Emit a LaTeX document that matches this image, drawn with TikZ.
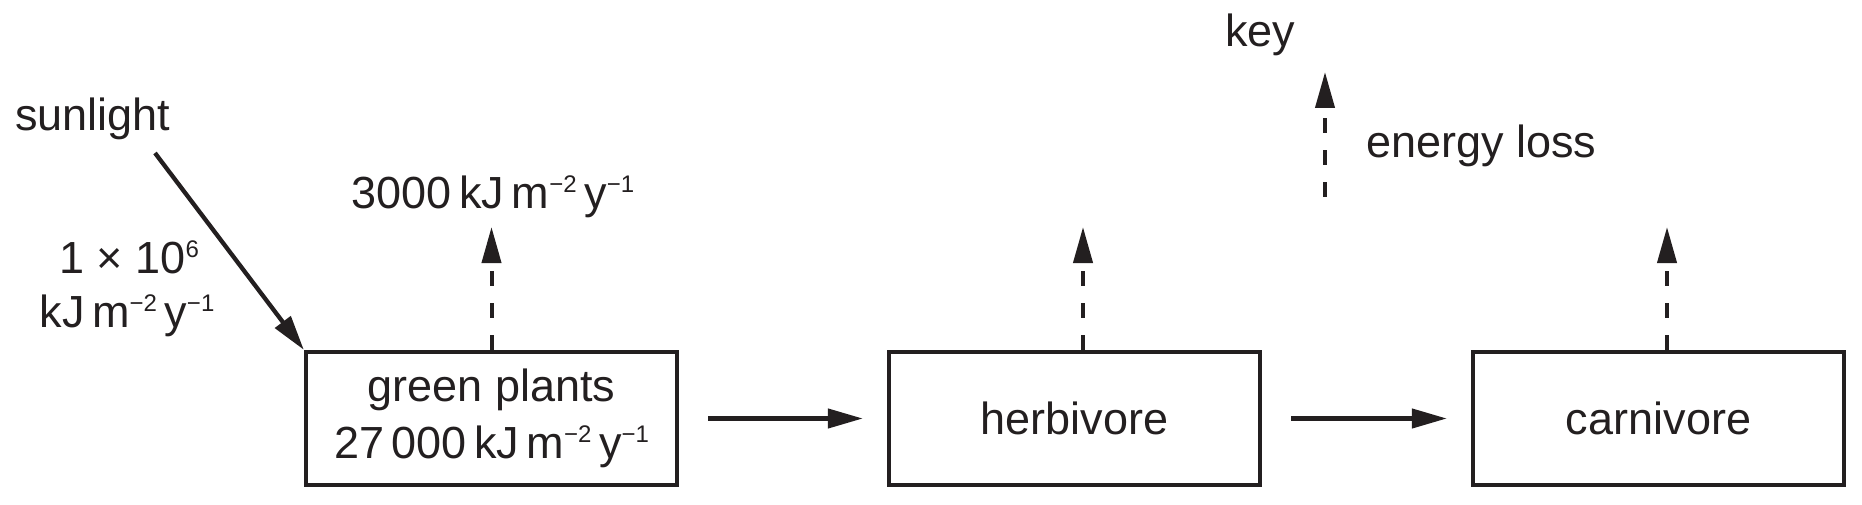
\documentclass[tikz,border=0pt]{standalone}
\usepackage{fontspec}
\setmainfont{Liberation Sans}
\usetikzlibrary{arrows.meta}
\definecolor{ink}{HTML}{231F20}
\newcommand\sps[1]{\raisebox{16pt}{\fontsize{24}{24}\selectfont #1}}
\newcommand\kjunit{kJ\,m\sps{−2}\,y\sps{−1}}
\begin{document}
\begin{tikzpicture}[x=1pt,y=-1pt,
  every node/.style={font=\fontsize{45}{57}\selectfont, text=ink},
  txt/.style={inner sep=0pt},
  box/.style={draw=ink, line width=4.3pt, minimum width=371pt, minimum height=133pt, inner sep=0pt, align=center},
  flow/.style={draw=ink, line width=4.3pt, -{Triangle[length=35pt,width=19pt]}},
  loss/.style={draw=ink, line width=4pt, dash pattern=on 15pt off 17pt, -{Triangle[length=36pt,width=19pt]}}]
\useasboundingbox (0,0) rectangle (1862,505);

% boxes
\node[box] (g) at (491.5,418.5) {green plants\\27\,000\,\kjunit};
\node[box] (h) at (1074.5,418.5) {herbivore};
\node[box] (c) at (1658.5,418.5) {carnivore};

% flow arrows
\draw[flow, shorten <=29pt, shorten >=24pt] (g.east) -- (h.west);
\draw[flow, shorten <=29pt, shorten >=24pt] (h.east) -- (c.west);

% sunlight
\node[txt, anchor=base west] (sun) at (15,131) {sunlight};
\coordinate (sunstart) at (155,153);
\draw[flow] (sunstart) -- (g.north west);
\node[txt, anchor=base] (sunval1) at (129,273) {1 × 10\sps{6}};
\node[txt, anchor=base] (sunval2) at (127,327) {\kjunit};

% energy losses
\coordinate (gtip) at (491.5,227);
\coordinate (htip) at (1083,227);
\coordinate (ctip) at (1667,227);
\draw[loss] (g.north) -- (gtip);
\draw[loss] (h.north -| htip) -- (htip);
\draw[loss] (c.north -| ctip) -- (ctip);
\node[txt, anchor=base] (gloss) at (493,208) {3000\,\kjunit};

% key
\node[txt, anchor=base west] (key) at (1225,47) {key};
\coordinate (keybot) at (1325,197);
\coordinate (keytip) at (1325,72);
\draw[loss] (keybot) -- (keytip);
\node[txt, anchor=base west] (eloss) at (1366,158) {energy loss};
\end{tikzpicture}
\end{document}
